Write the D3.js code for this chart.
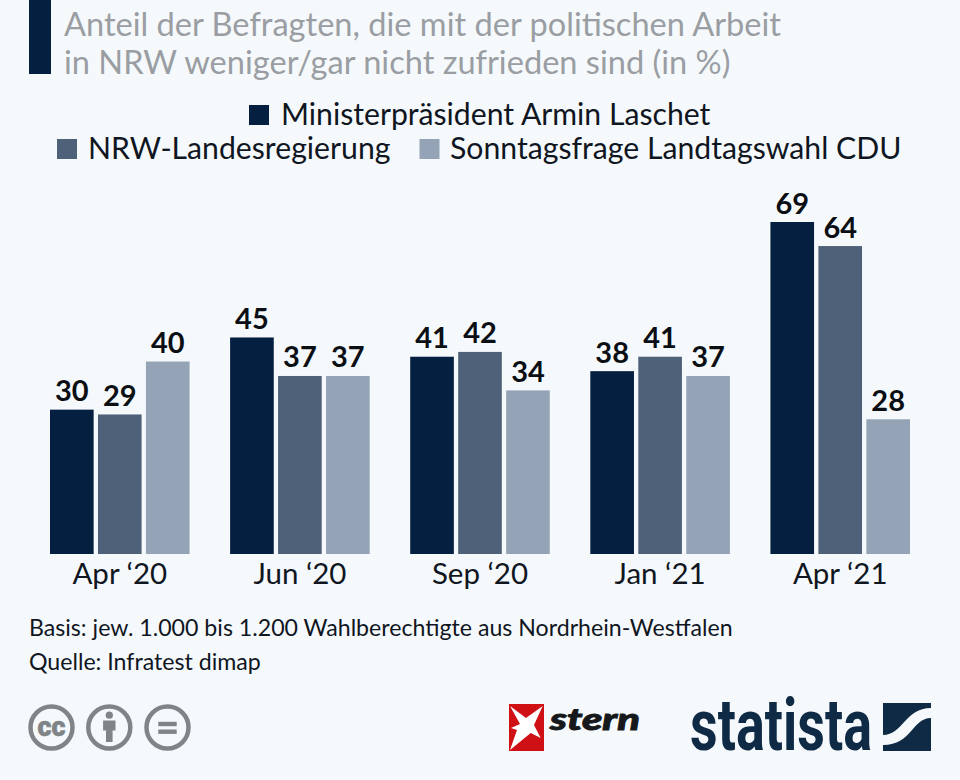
<!DOCTYPE html>
<html><head><meta charset="utf-8">
<script src="https://cdn.jsdelivr.net/npm/d3@7"></script>
<style>html,body{margin:0;padding:0;background:#f5f9fc}svg{display:block}text{font-family:Lato,"Open Sans",sans-serif}</style>
</head><body><svg id="c" width="960" height="780"></svg>
<script>
const categories=["Apr ‘20","Jun ‘20","Sep ‘20","Jan ‘21","Apr ‘21"];
const seriesNames=["Ministerpräsident Armin Laschet","NRW-Landesregierung","Sonntagsfrage Landtagswahl CDU"];
const laschet=[30,45,41,38,69];
const regierung=[29,37,42,41,64];
const cdu=[40,37,34,37,28];
const colors=["#051f40","#4f6079","#94a3b5"];
const titleLines=["Anteil der Befragten, die mit der politischen Arbeit","in NRW weniger/gar nicht zufrieden sind (in %)"];
const footLines=["Basis: jew. 1.000 bis 1.200 Wahlberechtigte aus Nordrhein-Westfalen","Quelle: Infratest dimap"];
const svg=d3.select("#c");
svg.append("rect").attr("width",960).attr("height",780).attr("fill","#f5f9fc");
svg.append("rect").attr("x",29).attr("y",0).attr("width",22).attr("height",74).attr("fill","#051f40");
svg.selectAll(".t").data(titleLines).join("text").attr("x",64).attr("y",(d,i)=>[36,74][i]).attr("font-size",32.6).attr("fill","#9a9ea3").text(d=>d);
const legend=[[seriesNames[0],249,281,125],[seriesNames[1],57,88,159],[seriesNames[2],419.5,450,159]];
legend.forEach((l,i)=>{
 svg.append("rect").attr("x",l[1]).attr("y",l[3]-20).attr("width",20).attr("height",20).attr("fill",colors[i]);
 svg.append("text").attr("x",l[2]).attr("y",l[3]).attr("font-size",30.2).attr("fill","#10161f").text(l[0]);
});
const x=d3.scaleBand().domain(categories).range([50,910]).paddingInner(0.225).paddingOuter(0);
const y=d3.scaleLinear().domain([0,69]).range([554,222]);
const x1=d3.scaleBand().domain([0,1,2]).range([0,x.bandwidth()]).paddingInner(0.09);
const rows=[laschet,regierung,cdu];
const g=svg.append("g");
rows.forEach((vals,s)=>{
 g.selectAll(".b"+s).data(vals).join("rect").attr("x",(d,i)=>x(categories[i])+x1(s)).attr("y",d=>y(d)).attr("width",x1.bandwidth()).attr("height",d=>y(0)-y(d)).attr("fill",colors[s]);
 g.selectAll(".l"+s).data(vals).join("text").attr("x",(d,i)=>x(categories[i])+x1(s)+x1.bandwidth()/2).attr("y",d=>y(d)-8.5).attr("text-anchor","middle").attr("font-size",29).attr("font-weight",700).attr("fill","#0b0f14").text(d=>d);
});
const ax=svg.append("g").attr("transform","translate(0,554)").call(d3.axisBottom(x).tickSize(0).tickPadding(9));
ax.select(".domain").remove();
ax.selectAll("text").attr("font-size",29.5).attr("fill","#10161f").style("font-family","Lato");
svg.selectAll(".f").data(footLines).join("text").attr("x",29).attr("y",(d,i)=>[636,670][i]).attr("font-size",23.15).attr("fill","#10161f").text(d=>d);
const gray="#808487";
[[51.5,"cc"],[109.3,"by"],[167.5,"eq"]].forEach(([cx,k])=>{
 const ic=svg.append("g").attr("transform",`translate(${cx},727.5)`);
 ic.append("circle").attr("r",21).attr("fill","none").attr("stroke",gray).attr("stroke-width",4.5);
 if(k==="cc")ic.append("text").attr("text-anchor","middle").attr("y",8).attr("font-size",28).attr("font-weight",900).attr("fill",gray).attr("stroke",gray).attr("stroke-width",0.6).attr("textLength",28).attr("lengthAdjust","spacingAndGlyphs").style("font-family","Roboto").text("cc");
 if(k==="by"){ic.append("circle").attr("cy",-12.3).attr("r",3.6).attr("fill",gray);ic.append("path").attr("d","M-6.2,-7H6.2V3H3.3V14.5H-3.3V3H-6.2Z").attr("fill",gray);}
 if(k==="eq"){ic.append("rect").attr("x",-9.2).attr("y",-5.7).attr("width",18.4).attr("height",4.4).attr("fill",gray);ic.append("rect").attr("x",-9.2).attr("y",2).attr("width",18.4).attr("height",4.4).attr("fill",gray);}
});
svg.append("rect").attr("x",509).attr("y",704).attr("width",35).attr("height",47).attr("fill","#cf1015");
svg.append("path").attr("d","M510,706L526,718L542.7,706L534,725L540.7,738L530.7,733L510,750L517,730L511,728L520,724Z").attr("fill","#fff");
svg.append("text").attr("x",550).attr("y",730).attr("font-size",31).attr("font-weight",900).attr("font-style","italic").attr("fill","#16181b").attr("stroke","#16181b").attr("stroke-width",0.9).style("font-family","Lato").attr("textLength",90).attr("lengthAdjust","spacingAndGlyphs").text("stern");
svg.append("text").attr("x",690).attr("y",750).attr("font-size",72).attr("font-weight",700).attr("fill","#0f2a45").style("font-family","Roboto").attr("textLength",182).attr("lengthAdjust","spacingAndGlyphs").text("statista");
svg.append("rect").attr("x",883).attr("y",703).attr("width",48).attr("height",48).attr("fill","#0f2a45");
svg.append("path").attr("d","M883,735C903,735 905,708 931,708V718C912,718 912,745 883,745Z").attr("fill","#f5f9fc");
</script></body></html>
